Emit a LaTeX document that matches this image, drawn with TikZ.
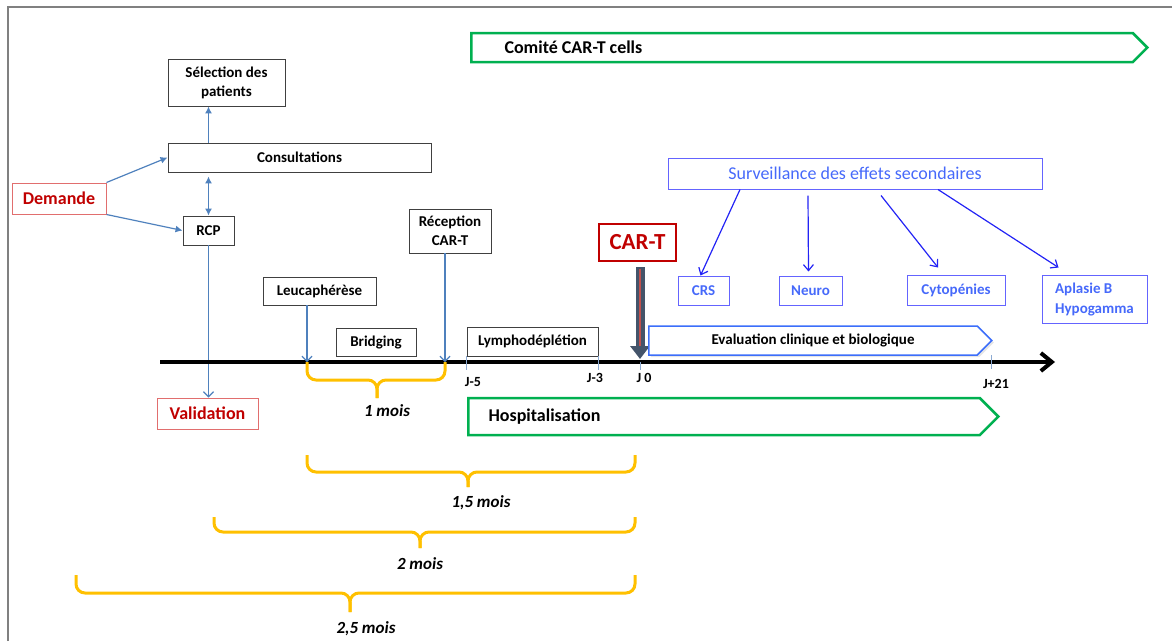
\documentclass[tikz,border=0pt]{standalone}
\usepackage{fontspec}
\setmainfont{Carlito}
\usetikzlibrary{arrows.meta,shapes.symbols,shadows}

\definecolor{framegrey}{RGB}{128,128,128}
\definecolor{steel}{RGB}{79,129,189}
\definecolor{tickblue}{RGB}{140,170,210}
\definecolor{cartgreen}{RGB}{0,176,80}
\definecolor{braceorange}{RGB}{255,192,0}
\definecolor{darkred}{RGB}{192,0,0}
\definecolor{lightred}{RGB}{225,110,110}
\definecolor{survborder}{RGB}{100,100,255}
\definecolor{survtext}{RGB}{70,105,250}
\definecolor{survline}{RGB}{35,35,245}
\definecolor{evalblue}{RGB}{60,110,250}
\definecolor{slate}{RGB}{68,84,106}
\definecolor{cartred}{RGB}{192,80,77}

\begin{document}
\begin{tikzpicture}[x=1pt, y=-1pt,
  box/.style={draw=black!75, line width=0.9pt, inner sep=0pt, align=center, font=\fontsize{15}{19}\selectfont\bfseries},
  redbox/.style={draw=lightred, line width=1pt, inner sep=0pt, text=darkred, font=\fontsize{18}{22}\selectfont\bfseries},
  bluebox/.style={draw=survborder, line width=1pt, inner sep=0pt, text=survtext, align=left, font=\fontsize{15}{20}\selectfont\bfseries},
  signalbox/.style={signal, signal to=east, signal from=nowhere, line width=2.5pt, inner sep=0pt, anchor=west},
  steelarrow/.style={draw=steel, line width=1.2pt, -{Latex[length=7pt,width=7pt]}},
  steelbarb/.style={draw=steel, line width=1.2pt, -{Straight Barb[length=5pt,width=10pt]}},
  survarrow/.style={draw=survline, line width=1.2pt, -{Straight Barb[length=6pt,width=10pt]}},
  tickline/.style={draw=tickblue, line width=1pt},
  jlabel/.style={font=\fontsize{14}{16}\selectfont\bfseries},
  bracket/.style={draw=braceorange, line width=3pt, rounded corners=9pt},
  moislabel/.style={font=\fontsize{17}{20}\selectfont\bfseries\itshape}
]
  \useasboundingbox (0,0) rectangle (1172,641);
  \draw[framegrey, line width=2pt] (8,641) -- (8,7) -- (1172,7);

  % left part: demande, consultations, RCP
  \node[box, minimum width=117pt, minimum height=47pt] (sel) at (226.5,82.5) {Sélection des\\patients};
  \node[box, minimum width=263pt, minimum height=29pt] (consult) at (299.5,157.5) {Consultations};
  \node[redbox, minimum width=94pt, minimum height=31pt] (demande) at (59,198.5) {Demande};
  \node[box, minimum width=51pt, minimum height=29pt] (rcp) at (208.5,230.5) {RCP};
  \node[redbox, minimum width=101pt, minimum height=31pt] (valid) at (207.5,413.5) {Validation};

  \draw[steelarrow] (demande.north east) -- (consult.west);
  \draw[steelarrow] (demande.south east) -- (rcp.west);
  \draw[steelarrow] (consult.north -| rcp) -- (sel.south -| rcp);
  \draw[steelarrow, {Latex[length=7pt,width=7pt]}-{Latex[length=7pt,width=7pt]}] ([yshift=-4pt]consult.south -| rcp) -- (rcp.north);
  \draw[steelbarb] (rcp.south) -- (valid.north -| rcp);

  % time axis
  \coordinate (axstart) at (160,362);
  \coordinate (axend) at (1055,362);
  \coordinate (leucaend) at (307,362);
  \coordinate (recepend) at (445,362);
  \coordinate (j0) at (640,362);
  \coordinate (j21) at (991,362);
  \draw[line width=4pt, -{Straight Barb[length=11pt,width=18pt]}] (axstart) -- (axend);

  \node[box, minimum width=113pt, minimum height=28pt] (leuca) at (319.5,291) {Leucaphérèse};
  \node[box, minimum width=80pt, minimum height=28pt] (bridg) at (376,342) {Bridging};
  \node[box, minimum width=82pt, minimum height=44pt] (recep) at (450,231) {Réception\\CAR-T};
  \node[box, minimum width=131pt, minimum height=29pt] (lympho) at (532.5,341.5) {Lymphodéplétion};
  \draw[steelbarb] (leuca.south -| leucaend) -- (leucaend);
  \draw[steelbarb] (recep.south -| recepend) -- (recepend);

  \draw[tickline] (lympho.south west) -- ++(0,14);
  \draw[tickline] (lympho.south east) -- ++(0,14);
  \draw[tickline] (j0) -- ++(0,8);
  \draw[tickline] ([yshift=7pt]j21) -- ([yshift=-7pt]j21);
  \node[jlabel] (jm5) at (473,382) {J-5};
  \node[jlabel] (jm3) at (595,378) {J-3};
  \node[jlabel] (jzero) at (644,378) {J 0};
  \node[jlabel] (jp21) at (996,384) {J+21};

  % CAR-T injection
  \node[draw=darkred, line width=2.5pt, minimum width=77pt, minimum height=37pt, inner sep=0pt, text=darkred, font=\fontsize{23}{26}\selectfont\bfseries] (cart) at (637.5,242.5) {CAR-T};
  \draw[slate, line width=9pt, -{Triangle[length=13pt,width=19pt]}] ([yshift=-5pt]cart.south -| j0) -- ([yshift=3pt]j0);
  \draw[cartred, line width=2.4pt] ([yshift=-7pt]cart.south -| j0) -- ([yshift=16pt]j0);

  % bands
  \node[signalbox, draw=cartgreen, minimum width=676pt, minimum height=29pt,
    label={[anchor=west, xshift=31pt, font=\fontsize{18}{22}\selectfont\bfseries]west:Comité CAR-T cells}] (comite) at (470,47.5) {};
  \node[signalbox, draw=evalblue, line width=1.5pt, fill=white, minimum width=343pt, minimum height=29pt,
    drop shadow={opacity=0.2, shadow xshift=2pt, shadow yshift=-2pt},
    font=\fontsize{15}{19}\selectfont\bfseries] (eval) at (648,340.5) {Evaluation clinique et biologique};
  \node[signalbox, draw=cartgreen, minimum width=530pt, minimum height=37pt,
    label={[anchor=west, xshift=18pt, font=\fontsize{18}{22}\selectfont\bfseries]west:Hospitalisation}] (hosp) at (467,416.5) {};

  % side effects
  \node[draw=survborder, line width=1pt, minimum width=374pt, minimum height=31pt, inner sep=0pt, text=survtext, font=\fontsize{18}{22}\selectfont] (surv) at (855,173.5) {Surveillance des effets secondaires};
  \node[bluebox, minimum width=51pt, minimum height=29pt] (crs) at (703.5,290.5) {CRS};
  \node[bluebox, minimum width=63pt, minimum height=29pt] (neuro) at (810.5,290.5) {Neuro};
  \node[bluebox, minimum width=98pt, minimum height=30pt] (cyto) at (956,290) {Cytopénies};
  \node[bluebox, minimum width=105pt, minimum height=48pt] (aplasie) at (1094.5,299) {Aplasie B\\Hypogamma};
  \draw[survarrow] ([xshift=-115pt]surv.south) -- ([xshift=-3pt]crs.north);
  \draw[survarrow] ([shift={(-47pt,-6pt)}]surv.south) -- ([shift={(-2pt,4pt)}]neuro.north);
  \draw[survarrow] ([shift={(26pt,-6pt)}]surv.south) -- ([shift={(-18pt,7pt)}]cyto.north);
  \draw[survarrow] ([xshift=83pt]surv.south) -- ([shift={(-36pt,7pt)}]aplasie.north);

  % durations
  \draw[bracket] (307,362) -- (307,380) -- (377,380) -- (377,398);
  \draw[bracket] (445,362) -- (445,380) -- (377,380) -- (377,398);
  \node[moislabel] (un) at (387,411) {1 mois};
  \draw[bracket] (307,455) -- (307,472) -- (468,472) -- (468,487);
  \draw[bracket] (635,455) -- (635,472) -- (468,472) -- (468,487);
  \node[moislabel] (uncinq) at (481,503) {1,5 mois};
  \draw[bracket] (214,517) -- (214,532) -- (420,532) -- (420,548);
  \draw[bracket] (635,517) -- (635,532) -- (420,532) -- (420,548);
  \node[moislabel] (deux) at (420,564) {2 mois};
  \draw[bracket] (76,575) -- (76,593) -- (350,593) -- (350,612);
  \draw[bracket] (635,575) -- (635,593) -- (350,593) -- (350,612);
  \node[moislabel] (deuxcinq) at (366,629) {2,5 mois};
\end{tikzpicture}
\end{document}
